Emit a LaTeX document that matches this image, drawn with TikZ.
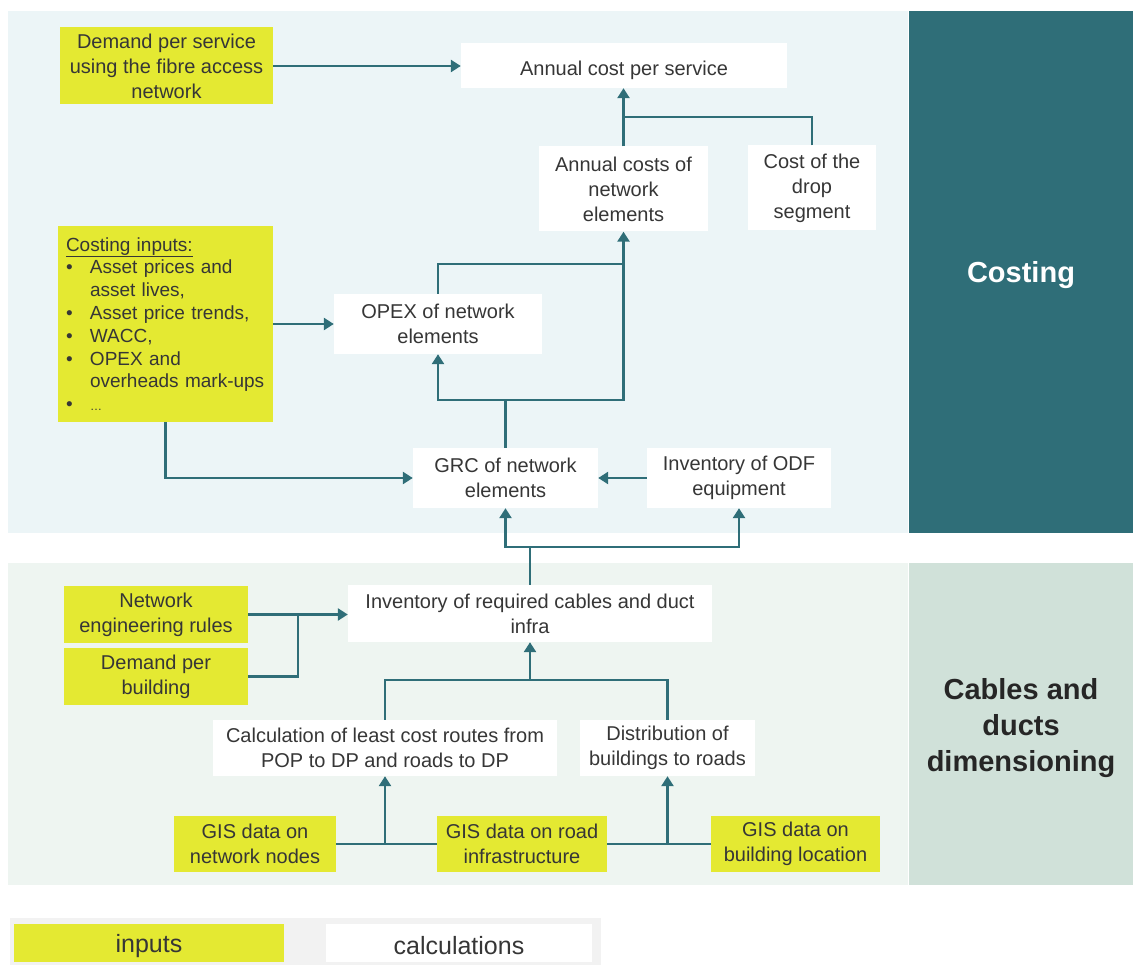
\documentclass[tikz,border=0pt]{standalone}
\usepackage{fontspec}
\setmainfont{Liberation Sans}
\usetikzlibrary{arrows.meta}
\definecolor{teal1}{HTML}{2F6E78}
\definecolor{costbg}{HTML}{ECF5F7}
\definecolor{cabbg}{HTML}{EEF5F1}
\definecolor{cablab}{HTML}{D0E1D9}
\definecolor{yel}{HTML}{E4E932}
\definecolor{txt}{HTML}{363636}
\definecolor{legbg}{HTML}{F2F2F2}
\tikzset{
  base/.style={inner sep=0pt, align=center, text=txt, font=\fontsize{20}{25}\selectfont},
  lowered/.style={execute at begin node={\rule{0pt}{#1}}},
  inp/.style={base, fill=yel, lowered=24pt},
  calcbox/.style={base, fill=white, lowered=24pt},
  sectlab/.style={base, font=\fontsize{29}{36}\selectfont\bfseries},
  ln/.style={draw=teal1, line width=2.8pt},
  arr/.style={ln, -{Triangle[width=12pt,length=10pt]}},
}
\begin{document}
\begin{tikzpicture}[x=1pt,y=-1pt]
\useasboundingbox (0,0) rectangle (1133,965);
% backgrounds
\fill[costbg] (8,11) rectangle (908,533);
\fill[cabbg] (8,563) rectangle (908,885);
\fill[teal1] (909,11) rectangle (1133,533);
\fill[cablab] (909,563) rectangle (1133,885);
\node[sectlab, text=white] (costlab) at (1021,275) {Costing};
\node[sectlab, text=black!85] (cablab) at (1021,728.5) {Cables and\\ducts\\dimensioning};
% legend
\fill[legbg] (10,918) rectangle (601,965);
\node[inp, minimum width=270pt, minimum height=38pt, font=\fontsize{25}{30}\selectfont] (leginp) at (149,943) {inputs};
\node[calcbox, minimum width=266pt, minimum height=38pt, font=\fontsize{25}{30}\selectfont] (legcalc) at (459,943) {calculations};
% costing nodes
\node[inp, minimum width=213pt, minimum height=77pt] (dps) at (166.5,66) {Demand per service\\using the fibre access\\network};
\node[calcbox, minimum width=326pt, minimum height=45pt] (acps) at (624,65.5) {Annual cost per service};
\node[calcbox, minimum width=169pt, minimum height=85pt] (acne) at (623.5,189) {Annual costs of\\network\\elements};
\node[calcbox, minimum width=128pt, minimum height=85pt] (cds) at (812,188) {Cost of the\\drop\\segment};
\node[base, fill=yel, minimum width=215pt, minimum height=196pt, align=left, text width=199pt, inner xsep=8pt, font=\fontsize{19}{22.8}\selectfont] (ci) at (165.5,324) {\underline{Costing inputs:}\\
\makebox[24pt][l]{•}Asset prices and\\
\hspace*{24pt}asset lives,\\
\makebox[24pt][l]{•}Asset price trends,\\
\makebox[24pt][l]{•}WACC,\\
\makebox[24pt][l]{•}OPEX and\\
\hspace*{24pt}overheads mark-ups\\
\makebox[24pt][l]{•}{\fontsize{12}{22.8}\selectfont …}};
\node[calcbox, minimum width=208pt, minimum height=60pt] (opex) at (438,324) {OPEX of network\\elements};
\node[calcbox, minimum width=185pt, minimum height=60pt] (grc) at (505.5,478) {GRC of network\\elements};
\node[calcbox, minimum width=184pt, minimum height=60pt] (odf) at (739,478) {Inventory of ODF\\equipment};
% cables nodes
\node[calcbox, minimum width=364pt, minimum height=57pt] (inv) at (530,613.5) {Inventory of required cables and duct\\infra};
\node[inp, minimum width=184pt, minimum height=57pt] (ner) at (156,614.5) {Network\\engineering rules};
\node[inp, minimum width=184pt, minimum height=57pt] (dpb) at (156,676.5) {Demand per\\building};
\node[calcbox, minimum width=344pt, minimum height=56pt] (calc) at (385,748) {Calculation of least cost routes from\\POP to DP and roads to DP};
\node[calcbox, minimum width=175pt, minimum height=56pt] (dist) at (667.5,748) {Distribution of\\buildings to roads};
\node[inp, minimum width=162pt, minimum height=56pt] (gn) at (255,844) {GIS data on\\network nodes};
\node[inp, minimum width=170pt, minimum height=56pt] (gr) at (522,844) {GIS data on road\\infrastructure};
\node[inp, minimum width=169pt, minimum height=56pt] (gb) at (795.5,844) {GIS data on\\building location};
% junction coordinates
\coordinate (j1) at (623.5,117);
\coordinate (j2) at (505.5,400);
\coordinate (j2b) at (623.5,264);
\coordinate (j3) at (530,547);
\coordinate (j4) at (298,614.5);
\coordinate (j5) at (530,680);
\coordinate (j6) at (385,844);
\coordinate (j7) at (667.5,844);
% connectors
\draw[arr] (dps.east) -- (dps.east -| acps.west);
\draw[arr] (acne.north) -- (acne.north |- acps.south);
\draw[ln] (cds.north) |- (j1);
\draw[arr] (ci.east) -- (ci.east -| opex.west);
\draw[arr] (ci.south) |- (grc.west);
\draw[arr] (odf.west) -- (grc.east);
\draw[ln] (grc.north) -- (j2);
\draw[arr] (j2) -| (opex.south);
\draw[arr] (j2) -| (acne.south);
\draw[ln] (opex.north) |- (j2b);
\draw[ln] (inv.north) -- (j3);
\draw[arr] (j3) -| (grc.south);
\draw[arr] (j3) -| (odf.south);
\draw[arr] (ner.east) -- (ner.east -| inv.west);
\draw[ln] (dpb.east) -| (j4);
\draw[ln] (calc.north) |- (j5) -| (dist.north);
\draw[arr] (j5) -- (inv.south);
\draw[ln] (gn.east) -- (gr.west);
\draw[arr] (j6) -- (calc.south);
\draw[ln] (gr.east) -- (gb.west);
\draw[arr] (j7) -- (dist.south);
\end{tikzpicture}
\end{document}
